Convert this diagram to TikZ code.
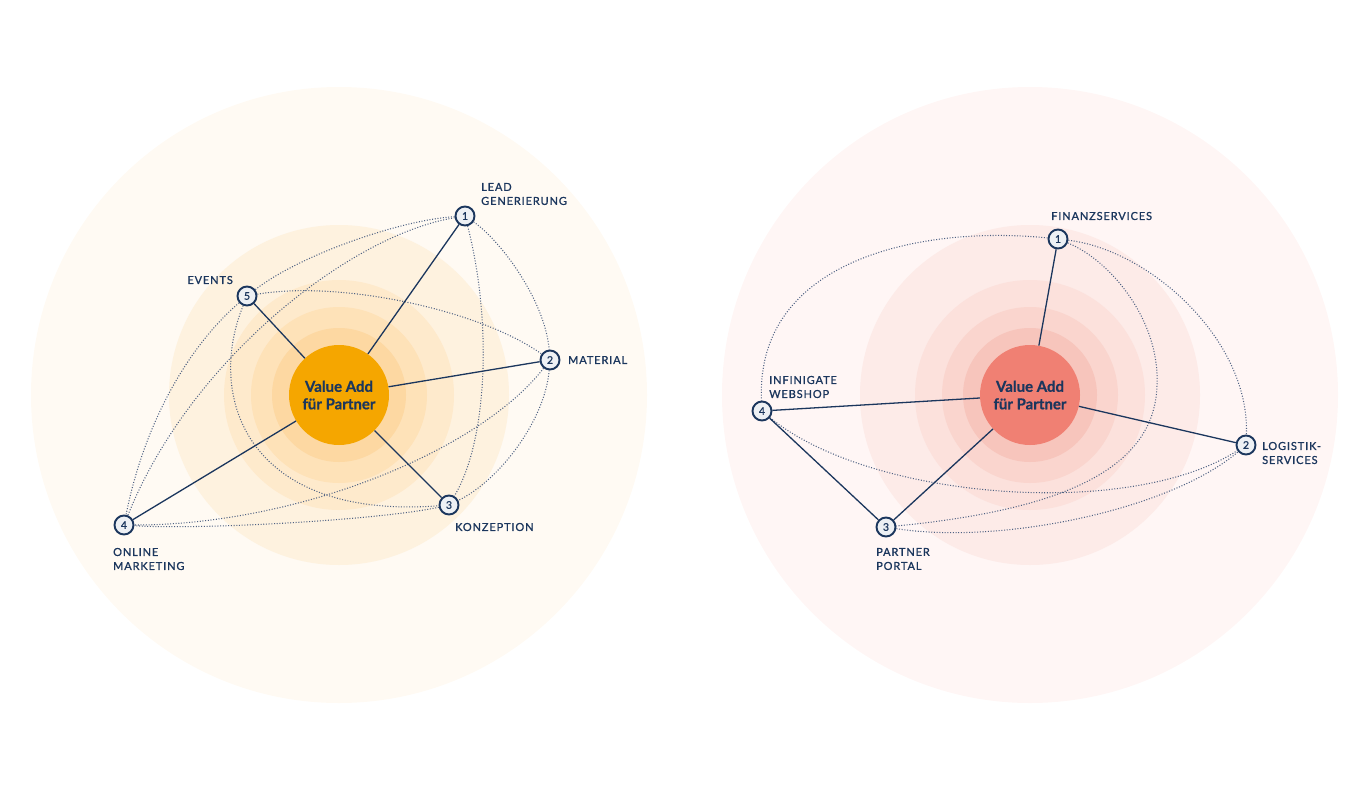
\documentclass[tikz,border=0pt]{standalone}
\usepackage{fontspec}
\setmainfont{Lato}
\newfontfamily\lblfont[LetterSpace=8,FakeBold=1.1]{Lato}
\newfontfamily\numfont[FakeBold=0.8]{Lato}
\newfontfamily\hubfont[BoldFeatures={FakeBold=0.6}]{Lato}
\definecolor{navy}{HTML}{1B365D}
\definecolor{dotc}{HTML}{4F6283}
\definecolor{nfill}{HTML}{EDF0F4}
\definecolor{oA}{HTML}{FFFAF3}
\definecolor{oB}{HTML}{FEF2DF}
\definecolor{oC}{HTML}{FEEACC}
\definecolor{oD}{HTML}{FEE2B8}
\definecolor{oE}{HTML}{FDD8A2}
\definecolor{oF}{HTML}{F5A600}
\definecolor{pA}{HTML}{FFF6F5}
\definecolor{pB}{HTML}{FDEBE8}
\definecolor{pC}{HTML}{FCE1DC}
\definecolor{pD}{HTML}{FAD5CE}
\definecolor{pE}{HTML}{F7C5BC}
\definecolor{pF}{HTML}{F08073}
\begin{document}
\begin{tikzpicture}[x=1pt,y=-1pt,
  num/.style={circle, draw=navy, line width=1.9pt, fill=nfill, minimum size=19pt, inner sep=0pt, text=navy, font=\numfont\fontsize{10.5}{11}\selectfont},
  hub/.style={circle, minimum size=100pt, inner sep=0pt, align=center, text=navy, font=\hubfont\bfseries\fontsize{15}{17.5}\selectfont},
  lbl/.style={text=navy, align=left, inner sep=0pt, font=\lblfont\fontsize{11}{14}\selectfont},
  solidc/.style={draw=navy, line width=1.3pt},
  dotcon/.style={draw=dotc, line width=1.05pt, dash pattern=on 1pt off 1.7pt}
]
\useasboundingbox (0,0) rectangle (1370,790);
% left rings
\fill[oA] (339,395) circle (308);
\fill[oB] (339,395) circle (170);
\fill[oC] (339,395) circle (115);
\fill[oD] (339,395) circle (88);
\fill[oE] (339,395) circle (67);
% right rings
\fill[pA] (1030,395) circle (308);
\fill[pB] (1030,395) circle (170);
\fill[pC] (1030,395) circle (115);
\fill[pD] (1030,395) circle (88);
\fill[pE] (1030,395) circle (67);

% left nodes
\node[hub, fill=oF] (lc) at (339,395) {Value Add\\für Partner};
\node[num] (l1) at (465,216) {1};
\node[num] (l2) at (550,360) {2};
\node[num] (l3) at (449,505) {3};
\node[num] (l4) at (124,525) {4};
\node[num] (l5) at (247,296) {5};
% right nodes
\node[hub, fill=pF] (rc) at (1030,395) {Value Add\\für Partner};
\node[num] (r1) at (1058,239) {1};
\node[num] (r2) at (1246,445) {2};
\node[num] (r3) at (886,527) {3};
\node[num] (r4) at (762,411) {4};

% left dotted
\draw[dotcon] (l1) .. controls (400,220) and (300,255) .. (l5);
\draw[dotcon] (l1) .. controls (350,235) and (190,360) .. (l4);
\draw[dotcon] (l5) .. controls (190,345) and (145,420) .. (l4);
\draw[dotcon] (l5) .. controls (205,400) and (250,520) .. (l3);
\draw[dotcon] (l5) .. controls (340,280) and (480,310) .. (l2);
\draw[dotcon] (l1) .. controls (492,320) and (488,440) .. (l3);
\draw[dotcon] (l1) .. controls (500,240) and (545,300) .. (l2);
\draw[dotcon] (l2) .. controls (545,420) and (500,480) .. (l3);
\draw[dotcon] (l2) .. controls (480,450) and (300,525) .. (l4);
\draw[dotcon] (l3) .. controls (380,520) and (200,530) .. (l4);
% left solid
\foreach \n in {l1,l2,l3,l4,l5} \draw[solidc] (\n) -- (lc);

% right dotted
\coordinate (rk) at (1157,385);
\draw[dotcon] (r1) .. controls (920,225) and (755,260) .. (r4);
\draw[dotcon] (r1) .. controls (1150,250) and (1250,340) .. (r2);
\draw[dotcon] (r1) .. controls (1110,260) and (1160,320) .. (rk) .. controls (1155,470) and (1060,510) .. (r3);
\draw[dotcon] (r4) .. controls (870,500) and (1130,520) .. (r2);
\draw[dotcon] (r3) .. controls (1000,545) and (1170,510) .. (r2);
% right solid
\foreach \n in {r1,r2,r3,r4} \draw[solidc] (\n) -- (rc);
\draw[solidc] (r4) -- (r3);

% labels left
\node[lbl, anchor=west] (t1) at (481,194) {LEAD\\GENERIERUNG};
\node[lbl, anchor=east] (t5) at (233,280) {EVENTS};
\node[lbl, anchor=west] (t2) at (568,360) {MATERIAL};
\node[lbl, anchor=west] (t3) at (455,527) {KONZEPTION};
\node[lbl, anchor=west] (t4) at (113,559) {ONLINE\\MARKETING};
% labels right
\node[lbl, anchor=west] (u1) at (1051,216) {FINANZSERVICES};
\node[lbl, anchor=west] (u4) at (769,387) {INFINIGATE\\WEBSHOP};
\node[lbl, anchor=west] (u2) at (1262,453) {LOGISTIK-\\SERVICES};
\node[lbl, anchor=west] (u3) at (876,559) {PARTNER\\PORTAL};
\end{tikzpicture}
\end{document}
